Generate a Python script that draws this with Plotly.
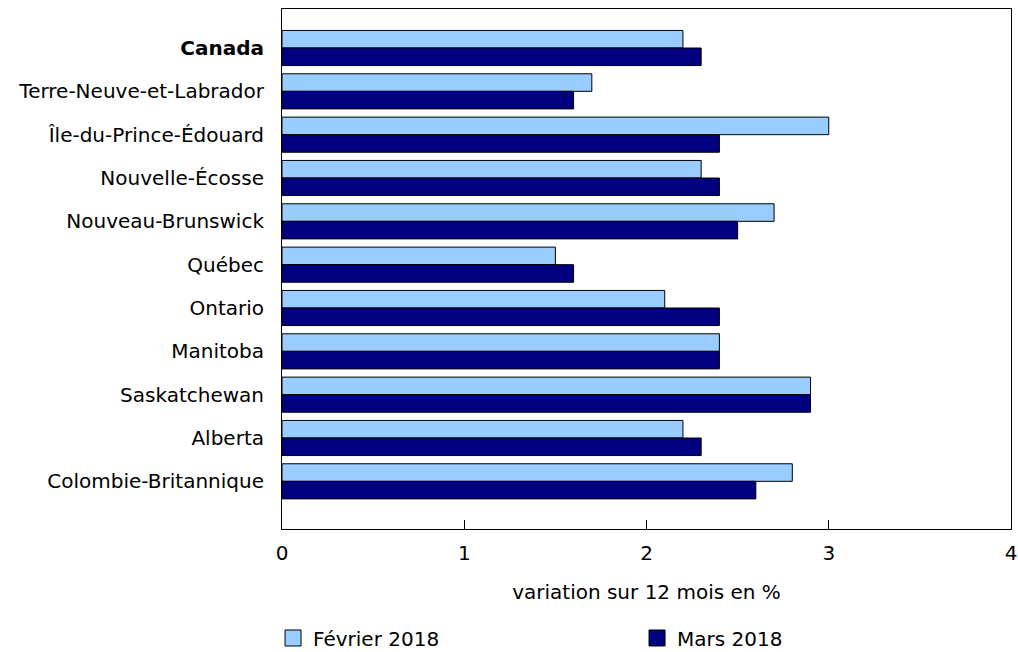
import plotly.graph_objects as go

categories = ["Canada", "Terre-Neuve-et-Labrador", "Île-du-Prince-Édouard", "Nouvelle-Écosse",
              "Nouveau-Brunswick", "Québec", "Ontario", "Manitoba", "Saskatchewan", "Alberta",
              "Colombie-Britannique"]
fevrier_2018 = [2.2, 1.7, 3.0, 2.3, 2.7, 1.5, 2.1, 2.4, 2.9, 2.2, 2.8]
mars_2018 = [2.3, 1.6, 2.4, 2.4, 2.5, 1.6, 2.4, 2.4, 2.9, 2.3, 2.6]
tick_labels = ["<b>Canada</b>"] + categories[1:]
x_ticks = [0, 1, 2, 3, 4]
series_names = ["Février 2018", "Mars 2018"]
series_colors = ["#99ccff", "#000080"]

fig = go.Figure()
for name, vals, col in zip(series_names, [fevrier_2018, mars_2018], series_colors):
    fig.add_trace(go.Bar(y=categories, x=vals, orientation="h", name=name, showlegend=False,
                         legendgroup=name,
                         marker=dict(color=col, line=dict(color="black", width=1))))
# legend entries with larger square symbols
for name, col in zip(series_names, series_colors):
    fig.add_trace(go.Scatter(x=[None], y=[None], mode="markers", name=name, legendgroup=name,
                             marker=dict(symbol="square", size=18, color=col,
                                         line=dict(color="black", width=1))))

fig.update_layout(
    width=1018, height=652,
    margin=dict(l=282, r=7, t=9, b=123, autoexpand=False),
    plot_bgcolor="white", paper_bgcolor="white",
    font=dict(family="DejaVu Sans", size=20, color="black"),
    barmode="group", bargap=0.19, bargroupgap=0,
    showlegend=True,
    legend=dict(orientation="h", x=-0.0123, y=-0.2096, xanchor="left", yanchor="middle",
                entrywidth=319, font=dict(size=20), traceorder="normal", itemsizing="trace"),
    xaxis=dict(range=[0, 4], tickvals=x_ticks, ticks="inside", ticklen=9, tickcolor="black",
               showline=True, linecolor="black", linewidth=1, mirror=True, showgrid=False,
               zeroline=False, ticklabelstandoff=6,
               title=dict(text="variation sur 12 mois en %", standoff=20, font=dict(size=20))),
    yaxis=dict(categoryorder="array", categoryarray=categories, tickvals=categories,
               ticktext=tick_labels, range=[11.1, -0.9], ticks="", showline=True,
               linecolor="black", linewidth=1, mirror=True, showgrid=False, ticklabelstandoff=13),
)
fig.write_html(
    "out.html",
    config={"displayModeBar": False},
    post_script=("document.body.style.margin='0';"
                 "document.body.style.overflow='hidden';"
                 "document.documentElement.style.overflow='hidden';"),
)
